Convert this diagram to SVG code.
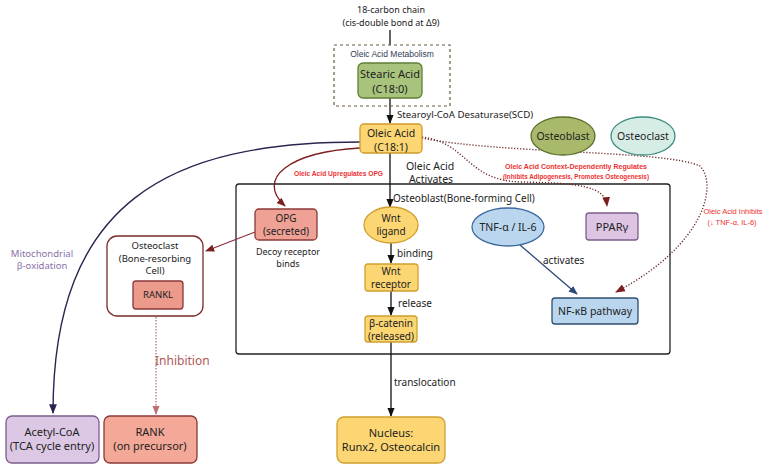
<svg xmlns="http://www.w3.org/2000/svg" width="767" height="470" viewBox="0 0 767 470">
<defs>
<style>
text{font-family:"Noto Sans","Open Sans","DejaVu Sans",sans-serif;fill:#222;text-anchor:middle}
.t{font-size:10px}
.s{font-size:9.5px}
.b{font-size:11px}
.st{text-anchor:start}
.red{font-family:"Liberation Sans",Arial,sans-serif;font-weight:bold;font-size:7.5px;fill:#ee3030}
.redn{font-family:"Liberation Sans",Arial,sans-serif;font-size:7.5px;fill:#ee3030}
.ln{fill:none;stroke:#111;stroke-width:1.3}
</style>
<marker id="ak" viewBox="0 0 10 10" refX="9" refY="5" markerWidth="7" markerHeight="7" orient="auto"><path d="M0,1 L10,5 L0,9 z" fill="#111"/></marker>
<marker id="ar" viewBox="0 0 10 10" refX="9" refY="5" markerWidth="7" markerHeight="7" orient="auto"><path d="M0,1 L10,5 L0,9 z" fill="#7a1e1e"/></marker>
<marker id="an" viewBox="0 0 10 10" refX="9" refY="5" markerWidth="7" markerHeight="7" orient="auto"><path d="M0,1 L10,5 L0,9 z" fill="#2a2450"/></marker>
<marker id="ab" viewBox="0 0 10 10" refX="9" refY="5" markerWidth="7" markerHeight="7" orient="auto"><path d="M0,1 L10,5 L0,9 z" fill="#2a4a7a"/></marker>
<marker id="ap" viewBox="0 0 10 10" refX="9" refY="5" markerWidth="7" markerHeight="7" orient="auto"><path d="M0,1 L10,5 L0,9 z" fill="#c07070"/></marker>
</defs>
<rect width="767" height="470" fill="#fff"/>

<text x="391" y="13" style="font-size:9px">18-carbon chain</text>
<text x="391" y="26" style="font-size:9px">(cis-double bond at Δ9)</text>

<g id="container">
<rect x="236" y="184" width="434" height="170" rx="3" fill="none" stroke="#222" stroke-width="1.3"/>
<text class="t st" x="393" y="202">Osteoblast(Bone-forming Cell)</text>
</g>

<g id="connectors">
<path class="ln" d="M390,30 V45"/>
<path class="ln" d="M390,98 V123" marker-end="url(#ak)"/>
<path class="ln" d="M390,153 V207" marker-end="url(#ak)"/>
<path class="ln" d="M391,243 V263" marker-end="url(#ak)"/>
<path class="ln" d="M391,291 V315" marker-end="url(#ak)"/>
<path class="ln" d="M391,342 V416" marker-end="url(#ak)"/>
<path d="M360,142 C170,142 53,200 53,413" fill="none" stroke="#2a2450" stroke-width="1.4" marker-end="url(#an)"/>
<path d="M360,148 C290,152 255,178 285,206" fill="none" stroke="#7a1e1e" stroke-width="1.3" marker-end="url(#ar)"/>
<path d="M255,232 L206,251" fill="none" stroke="#8a3040" stroke-width="1.3" marker-end="url(#ar)"/>
<path d="M156,317 V414" fill="none" stroke="#c07070" stroke-width="1.3" stroke-dasharray="1.5,1.5" marker-end="url(#ap)"/>
<path d="M520,245 L577,294" fill="none" stroke="#2a4a7a" stroke-width="1.3" marker-end="url(#ab)"/>
<path d="M422,137 C468,143 466,180 520,182 C580,183 605,186 607,206" fill="none" stroke="#6a2a2a" stroke-width="1.4" stroke-dasharray="1.2,1.8" marker-end="url(#ar)"/>
<path d="M422,138 C500,154 665,150 700,166 C718,185 705,245 616,292" fill="none" stroke="#6a2a2a" stroke-width="1.4" stroke-dasharray="1.2,1.8" marker-end="url(#ar)"/>
</g>

<g id="labels">
<text class="st" x="397" y="118" style="font-size:9.7px">Stearoyl-CoA Desaturase(SCD)</text>
<text x="430" y="169.5" style="font-size:10.5px">Oleic Acid</text>
<text x="431" y="183" style="font-size:10.5px">Activates</text>
<text class="red" x="338.5" y="176" textLength="89" lengthAdjust="spacingAndGlyphs">Oleic Acid Upregulates OPG</text>
<text class="red" x="576" y="169" textLength="142" lengthAdjust="spacingAndGlyphs">Oleic Acid Context-Dependently Regulates</text>
<text class="red" x="576" y="179" textLength="146" lengthAdjust="spacingAndGlyphs">(Inhibits Adipogenesis, Promotes Osteogenesis)</text>
<text class="redn" x="733" y="214">Oleic Acid Inhibits</text>
<text class="redn" x="732" y="225">(↓ TNF-α, IL-6)</text>
<text x="42" y="256.5" style="font-size:9.5px;fill:#8a70a8">Mitochondrial</text>
<text x="42" y="269" style="font-size:9.5px;fill:#8a70a8">β-oxidation</text>
<text class="st" x="155" y="365" style="font-size:12px;fill:#b05858">Inhibition</text>
<text class="t st" x="397" y="257">binding</text>
<text class="t st" x="398" y="307">release</text>
<text class="t st" x="394" y="386">translocation</text>
<text class="t st" x="543" y="264">activates</text>
<text x="288" y="255" style="font-size:9px">Decoy receptor</text>
<text x="288" y="267" style="font-size:9px">binds</text>
</g>

<g id="metabolism">
<rect x="334" y="45" width="116" height="61" fill="none" stroke="#6a5a3a" stroke-width="1.2" stroke-dasharray="3,3"/>
<text x="392" y="57" style="font-family:'Liberation Sans',Arial,sans-serif;font-size:8.5px;fill:#333b55">Oleic Acid Metabolism</text>
</g>
<g id="stearic">
<rect x="358" y="63" width="64" height="35" rx="5" fill="#a8c47c" stroke="#5f7f35" stroke-width="1.3"/>
<text x="390" y="78" style="font-size:11px">Stearic Acid</text>
<text x="390" y="92.5" style="font-size:11px">(C18:0)</text>
</g>
<g id="oleic">
<rect x="360" y="124" width="62" height="29" rx="4" fill="#fbd672" stroke="#d09a2c" stroke-width="1.3"/>
<text x="391" y="137" style="font-size:10.5px">Oleic Acid</text>
<text x="391" y="150.5" style="font-size:10.5px">(C18:1)</text>
</g>
<g id="osteoblast">
<ellipse cx="563" cy="136" rx="32" ry="19" fill="#a8b96b" stroke="#5a6f2a" stroke-width="1.3"/>
<text x="563" y="140" style="font-size:10.5px">Osteoblast</text>
</g>
<g id="osteoclast-cell">
<ellipse cx="643" cy="136" rx="32" ry="19" fill="#d6ede6" stroke="#3f8c80" stroke-width="1.3"/>
<text x="643" y="140" style="font-size:10.5px">Osteoclast</text>
</g>
<g id="opg">
<rect x="255" y="209" width="62" height="31" rx="4" fill="#f0a196" stroke="#8a3838" stroke-width="1.3"/>
<text class="t" x="286" y="222">OPG</text>
<text class="t" x="286" y="235">(secreted)</text>
</g>
<g id="wnt-ligand">
<ellipse cx="391" cy="225" rx="27" ry="18" fill="#fbd672" stroke="#d0a030" stroke-width="1.3"/>
<text class="t" x="391" y="222">Wnt</text>
<text class="t" x="391" y="235">ligand</text>
</g>
<g id="wnt-receptor">
<rect x="365" y="264" width="53" height="27" rx="3" fill="#fbd672" stroke="#d0a030" stroke-width="1.3"/>
<text class="t" x="391" y="275">Wnt</text>
<text class="t" x="391" y="288">receptor</text>
</g>
<g id="beta-catenin">
<rect x="365" y="316" width="52" height="26" rx="3" fill="#fbd672" stroke="#d0a030" stroke-width="1.3"/>
<text class="t" x="391" y="327">β-catenin</text>
<text class="t" x="391" y="340">(released)</text>
</g>
<g id="tnf">
<ellipse cx="508" cy="227" rx="36" ry="19" fill="#b9d6ee" stroke="#3f6a9e" stroke-width="1.3"/>
<text x="508" y="231" style="font-size:10.5px">TNF-α / IL-6</text>
</g>
<g id="ppar">
<rect x="586" y="213" width="52" height="27" rx="3" fill="#dcc4e2" stroke="#7d5e8c" stroke-width="1.3"/>
<text class="b" x="612" y="230.5">PPARγ</text>
</g>
<g id="nfkb">
<rect x="552" y="298" width="86" height="26" rx="3" fill="#b9d6ee" stroke="#2f4f70" stroke-width="1.3"/>
<text x="595" y="315" style="font-size:10.5px">NF-κB pathway</text>
</g>
<g id="osteoclast">
<rect x="107" y="236" width="96" height="80" rx="10" fill="#fff" stroke="#7a2a2a" stroke-width="1.3"/>
<text class="s" x="155" y="249">Osteoclast</text>
<text class="s" x="155" y="261.5">(Bone-resorbing</text>
<text class="s" x="155" y="274">Cell)</text>
</g>
<g id="rankl">
<rect x="133" y="281" width="50" height="28" rx="3" fill="#eb9a8c" stroke="#8a3838" stroke-width="1.3"/>
<text class="s" x="158" y="298">RANKL</text>
</g>
<g id="acetyl">
<rect x="6" y="416" width="93" height="47" rx="6" fill="#dcc8e4" stroke="#7d5e8c" stroke-width="1.3"/>
<text class="b" x="52" y="436">Acetyl-CoA</text>
<text class="b" x="52" y="450">(TCA cycle entry)</text>
</g>
<g id="rank">
<rect x="104" y="416" width="93" height="47" rx="6" fill="#f4a898" stroke="#8a3838" stroke-width="1.3"/>
<text class="b" x="150" y="436">RANK</text>
<text class="b" x="150" y="450">(on precursor)</text>
</g>
<g id="nucleus">
<rect x="337" y="417" width="108" height="46" rx="7" fill="#fbd672" stroke="#d0a030" stroke-width="1.3"/>
<text class="b" x="391" y="437">Nucleus:</text>
<text class="b" x="391" y="451">Runx2, Osteocalcin</text>
</g>
</svg>
